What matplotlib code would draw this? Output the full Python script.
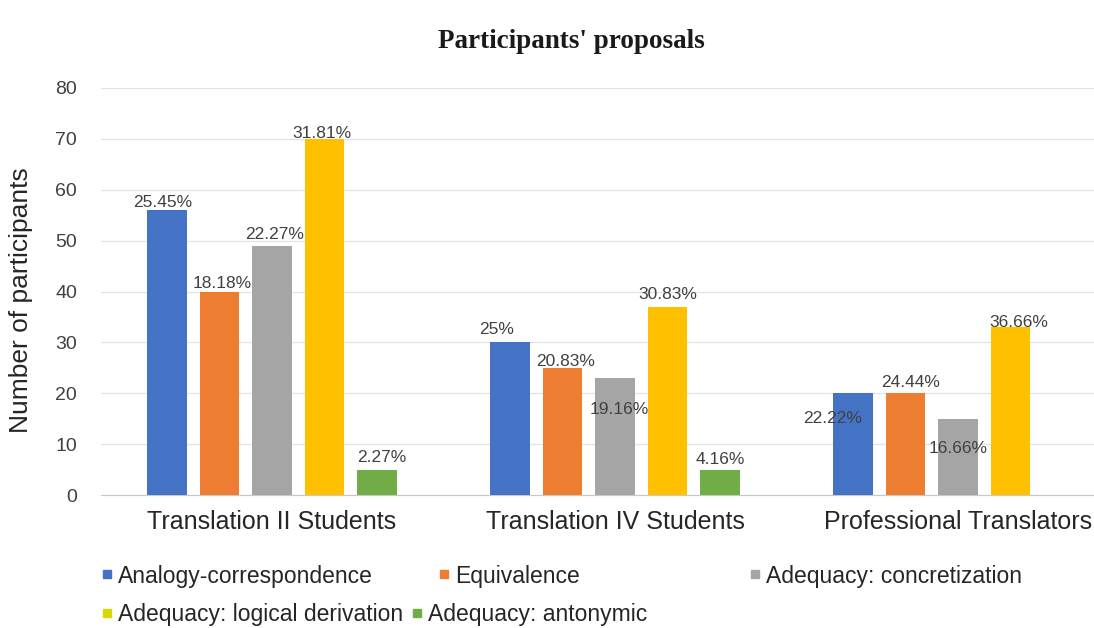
import matplotlib
matplotlib.use("Agg")
import matplotlib.pyplot as plt
from matplotlib.lines import Line2D
import numpy as np

# ---- data ----
categories = ["Translation II Students", "Translation IV Students", "Professional Translators"]
series_names = ["Analogy-correspondence", "Equivalence", "Adequacy: concretization",
                "Adequacy: logical derivation", "Adequacy: antonymic"]
analogy = [56, 30, 20]
equivalence = [40, 25, 20]
concretization = [49, 23, 15]
logical_derivation = [70, 37, 33]
antonymic = [5, 5, 0]
analogy_pct = ["25.45%", "25%", "22.22%"]
equivalence_pct = ["18.18%", "20.83%", "24.44%"]
concretization_pct = ["22.27%", "19.16%", "16.66%"]
logical_pct = ["31.81%", "30.83%", "36.66%"]
antonymic_pct = ["2.27%", "4.16%", ""]
yticks = [0, 10, 20, 30, 40, 50, 60, 70, 80]

values = [analogy, equivalence, concretization, logical_derivation, antonymic]
labels = [analogy_pct, equivalence_pct, concretization_pct, logical_pct, antonymic_pct]

# ---- style ----
colors = ["#4472C4", "#ED7D31", "#A5A5A5", "#FFC000", "#70AD47"]
legend_colors = ["#4472C4", "#ED7D31", "#A5A5A5", "#D8D800", "#70AD47"]
# label offsets in pixels (dx right, dy up from bar top) per series, per group
offsets = [
    [(-4, 8), (-13, 13), (-20, -25)],
    [(3, 8), (3, 6), (5, 11)],
    [(3, 11), (4, -32), (0, -30)],
    [(-3, 5), (0, 12), (8, 5)],
    [(5, 12), (0, 10), (0, 0)],
]
W, H = 1094, 628
fig = plt.figure(figsize=(W / 100, H / 100), dpi=100)
ax_left, ax_right, ax_bottom, ax_top = 100.5, 1129.5, 495, 88
ax = fig.add_axes([ax_left / W, 1 - ax_bottom / H, (ax_right - ax_left) / W, (ax_bottom - ax_top) / H])

x = np.arange(len(categories))
step = 0.153
bw = 0.115
font = "Liberation Sans"
for i, (vals, labs, col) in enumerate(zip(values, labels, colors)):
    pos = x + (i - 2) * step
    bars = ax.bar(pos, vals, width=bw, color=col, zorder=3)
    for j, (b, lab) in enumerate(zip(bars, labs)):
        if not lab:
            continue
        dx, dy = offsets[i][j]
        ax.annotate(lab, xy=(b.get_x() + b.get_width() / 2, b.get_height()),
                    xytext=(dx * 0.72, dy * 0.72), textcoords="offset points",
                    ha="center", va="center", fontsize=12.5, color="#404040",
                    family=font, zorder=5)

ax.set_ylim(0, 80)
ax.set_xlim(-0.5, 2.5)
ax.set_yticks(yticks)
ax.set_xticks(x)
ax.set_xticklabels(categories, fontsize=18, family=font, color="#262626")
ax.tick_params(axis="x", length=0, pad=11)
ax.tick_params(axis="y", length=0, pad=17, labelsize=14, labelcolor="#404040")
for t in ax.get_yticklabels():
    t.set_family(font)
ax.grid(axis="y", color="#e3e3e3", lw=0.9, zorder=0)
for s in ["top", "right", "left"]:
    ax.spines[s].set_visible(False)
ax.spines["bottom"].set_color("#c8c8c8")
ax.set_ylabel("Number of participants", fontsize=19, family=font, color="#262626")
ax.yaxis.set_label_coords((33 - ax_left) / (ax_right - ax_left), 0.478)

fig.text(571 / W, 1 - 42 / H, "Participants' proposals", ha="center", va="center",
         fontsize=19.5, fontweight="bold", family="Liberation Serif", color="#1a1a1a")

# legend entries
legend_pos = [(101, 576), (438, 576), (749, 576), (101, 615), (411, 615)]
for name, col, (lx, ly) in zip(series_names, legend_colors, legend_pos):
    h = Line2D([], [], marker="s", color=col, linestyle="none", markersize=5.5)
    fig.legend([h], [name], loc="center left", bbox_to_anchor=(lx / W, 1 - ly / H),
               frameon=False, handlelength=0.5, handletextpad=0.25, borderpad=0,
               borderaxespad=0, prop={"family": font, "size": 16.5}, labelcolor="#262626")

fig.savefig("out.png", dpi=100)
